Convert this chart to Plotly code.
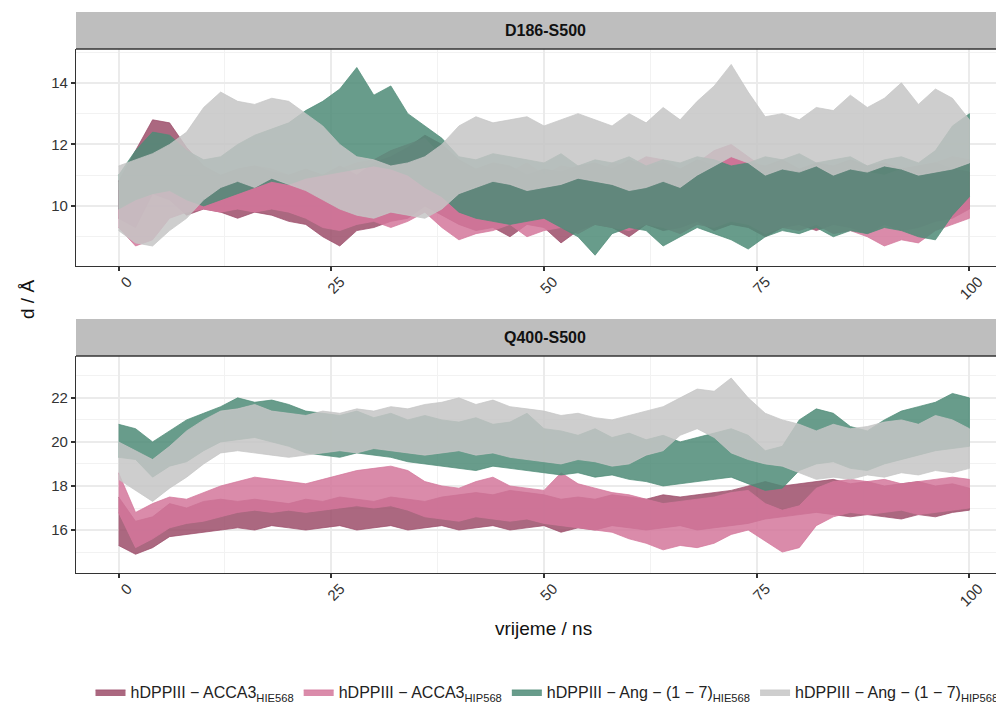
import plotly.graph_objects as go

# vrijeme / ns, every 2 ns; each series given as lower / upper edge of the trace
t = list(range(0, 101, 2))

series_names = [
    "hDPPIII − ACCA3<sub>HIE568</sub>",
    "hDPPIII − ACCA3<sub>HIP568</sub>",
    "hDPPIII − Ang − (1 − 7)<sub>HIE568</sub>",
    "hDPPIII − Ang − (1 − 7)<sub>HIP568</sub>",
]
series_colors = ["#9C4D6A", "#D4779B", "#4E8B77", "#C6C6C6"]
panel_titles = ["D186-S500", "Q400-S500"]

# D186-S500
d186_acca3_hie_lo = [9.6, 9.3, 10.4, 10.2, 9.7, 9.9, 9.8, 9.6, 9.8, 9.7,
                     9.5, 9.4, 9.0, 8.7, 9.2, 9.3, 9.5, 9.6, 10.0, 9.7,
                     9.4, 9.2, 9.3, 9.0, 9.4, 9.3, 8.8, 9.2, 9.4, 9.3,
                     9.0, 9.4, 9.2, 9.3, 9.5, 9.2, 9.4, 9.3, 9.0, 9.3,
                     9.4, 9.2, 9.4, 9.3, 9.1, 9.4, 9.2, 9.3, 9.5, 9.6,
                     9.9]
d186_acca3_hie_hi = [10.8, 11.8, 12.8, 12.7, 11.9, 11.3, 11.0, 11.2, 11.3, 11.1,
                     11.0, 11.2, 11.0, 11.3, 11.0, 11.4, 11.6, 11.9, 12.3, 12.0,
                     11.5, 11.2, 11.4, 11.3, 11.0, 11.2, 11.1, 11.3, 11.4, 11.2,
                     11.5, 11.3, 11.4, 11.2, 11.5, 11.3, 11.6, 11.4, 11.3, 11.5,
                     11.2, 11.4, 11.3, 11.5, 11.3, 11.4, 11.2, 11.3, 11.4, 11.2,
                     11.1]
d186_acca3_hip_lo = [9.3, 8.7, 8.9, 9.6, 9.8, 9.9, 9.8, 9.9, 9.8, 9.9,
                     9.8, 9.6, 9.3, 9.2, 9.4, 9.5, 9.3, 9.5, 9.8, 9.3,
                     8.9, 9.1, 9.2, 9.4, 9.0, 9.2, 9.3, 9.1, 9.4, 9.3,
                     9.2, 9.4, 9.3, 9.1, 9.4, 9.3, 9.5, 9.4, 9.1, 9.3,
                     9.2, 9.4, 9.1, 9.2, 9.0, 8.7, 8.9, 8.8, 9.2, 9.4,
                     9.6]
d186_acca3_hip_hi = [10.5, 10.4, 10.6, 10.9, 10.8, 11.0, 10.9, 11.2, 11.3, 11.2,
                     11.0, 11.1, 11.0, 11.2, 11.4, 11.5, 11.8, 12.0, 12.2, 11.6,
                     11.0, 11.2, 11.3, 11.1, 11.4, 11.0, 11.3, 11.2, 11.0, 11.4,
                     11.3, 11.6, 11.5, 11.2, 11.4, 11.8, 12.0, 11.6, 11.2, 11.3,
                     11.1, 11.3, 11.0, 11.2, 11.1, 11.0, 11.2, 11.3, 11.4, 11.6,
                     11.5]
d186_ang_hie_lo = [9.9, 10.2, 10.4, 10.5, 10.2, 10.0, 10.2, 10.4, 10.6, 10.8,
                   10.7, 10.9, 11.0, 11.1, 11.2, 11.3, 11.2, 11.0, 10.6, 10.3,
                   9.8, 9.6, 9.5, 9.4, 9.5, 9.6, 9.3, 9.0, 8.4, 9.1,
                   9.3, 9.2, 8.7, 9.0, 9.3, 9.1, 8.9, 8.6, 9.0, 9.2,
                   9.1, 9.3, 9.0, 9.2, 9.1, 9.3, 9.2, 9.0, 8.9, 9.7,
                   10.3]
d186_ang_hie_hi = [11.0, 11.8, 12.4, 12.3, 11.8, 11.5, 11.6, 12.0, 12.3, 12.5,
                   12.7, 13.1, 13.4, 13.8, 14.5, 13.6, 13.9, 13.0, 12.6, 12.2,
                   11.6, 11.5, 11.7, 11.6, 11.5, 11.4, 11.7, 11.3, 11.5, 11.4,
                   11.6, 11.3, 11.5, 11.4, 11.6, 11.5, 11.3, 11.4, 11.6, 11.5,
                   11.7, 11.4, 11.5, 11.6, 11.3, 11.5, 11.6, 11.4, 11.8, 12.6,
                   13.0]
d186_ang_hip_lo = [9.2, 8.8, 8.7, 9.2, 9.6, 10.2, 10.6, 10.8, 10.6, 10.9,
                   10.7, 10.5, 10.2, 9.9, 9.7, 9.6, 9.8, 9.7, 9.6, 9.9,
                   10.4, 10.6, 10.8, 10.7, 10.5, 10.6, 10.7, 10.9, 10.8, 10.7,
                   10.5, 10.6, 10.8, 10.6, 11.0, 11.3, 11.6, 11.4, 11.0, 11.2,
                   11.1, 11.3, 11.0, 11.2, 11.1, 11.3, 11.2, 11.0, 11.1, 11.2,
                   11.4]
d186_ang_hip_hi = [11.3, 11.5, 11.7, 12.0, 12.4, 13.2, 13.7, 13.4, 13.3, 13.5,
                   13.4, 13.0, 12.6, 12.0, 11.6, 11.5, 11.3, 11.4, 11.6, 12.0,
                   12.6, 12.9, 12.7, 12.8, 12.9, 12.6, 12.8, 13.0, 12.8, 12.6,
                   13.0, 12.7, 13.2, 12.8, 13.4, 13.9, 14.6, 13.7, 12.9, 13.0,
                   12.8, 13.2, 13.1, 13.6, 13.2, 13.5, 14.0, 13.3, 13.8, 13.5,
                   12.8]

# Q400-S500
q400_acca3_hie_lo = [15.3, 14.9, 15.2, 15.7, 15.8, 15.9, 16.0, 16.1, 16.0, 16.2,
                     16.1, 16.0, 16.1, 16.2, 16.0, 16.1, 16.2, 16.0, 16.1, 16.2,
                     16.0, 16.1, 16.2, 16.0, 16.1, 16.2, 15.9, 16.1, 16.0, 16.2,
                     16.1, 16.0, 16.1, 16.2, 16.0, 16.1, 16.2, 16.3, 16.5, 16.6,
                     16.7, 16.8, 16.7, 16.6, 16.7, 16.6, 16.5, 16.7, 16.6, 16.8,
                     16.9]
q400_acca3_hie_hi = [17.5, 16.4, 16.6, 17.2, 17.0, 17.3, 17.4, 17.3, 17.4, 17.3,
                     17.2, 17.4, 17.3, 17.5, 17.4, 17.3, 17.5, 17.4, 17.3, 17.5,
                     17.6, 17.7, 17.6, 17.8, 17.7, 17.6, 17.4, 17.5, 17.4, 17.6,
                     17.5, 17.4, 17.6, 17.5, 17.6, 17.7, 17.8, 18.0, 18.2, 18.0,
                     18.1, 18.2, 18.3, 18.1, 18.2, 18.0, 18.1, 18.2, 18.0, 18.1,
                     17.9]
q400_acca3_hip_lo = [16.8, 15.2, 15.6, 16.1, 16.3, 16.4, 16.6, 16.8, 16.9, 16.8,
                     16.9, 16.8, 16.9, 17.0, 17.1, 17.0, 17.1, 16.9, 16.6, 16.5,
                     16.4, 16.6, 16.5, 16.4, 16.5, 16.3, 16.2, 16.1, 16.0, 15.9,
                     15.6, 15.4, 15.1, 15.3, 15.2, 15.4, 15.8, 16.0, 15.5, 15.0,
                     15.2, 16.2, 16.6, 16.8, 16.7, 16.8, 16.9, 16.7, 16.8, 16.9,
                     17.0]
q400_acca3_hip_hi = [18.6, 16.8, 17.2, 17.5, 17.4, 17.7, 18.0, 18.2, 18.4, 18.3,
                     18.2, 18.1, 18.3, 18.5, 18.7, 18.8, 18.9, 18.7, 18.2, 18.0,
                     17.9, 18.2, 18.4, 18.0, 17.9, 17.8, 18.6, 18.1, 17.9, 17.7,
                     17.6, 17.4, 17.2, 17.3, 17.4, 17.5, 17.7, 17.8, 17.2, 16.9,
                     17.1, 17.9, 18.2, 18.3, 18.2, 18.3, 18.1, 18.2, 18.3, 18.4,
                     18.3]
q400_ang_hie_lo = [19.3, 19.2, 18.4, 18.9, 19.1, 19.6, 20.0, 20.1, 20.2, 20.0,
                   19.8, 19.5, 19.4, 19.3, 19.5, 19.4, 19.3, 19.1, 19.0, 18.9,
                   18.8, 18.7, 18.9, 18.8, 18.7, 18.6, 18.5, 18.6, 18.4, 18.5,
                   18.3, 18.2, 18.0, 18.1, 18.2, 18.3, 18.4, 18.1, 17.8, 17.9,
                   18.7, 19.0, 19.1, 18.8, 18.7, 19.0, 19.2, 19.4, 19.6, 19.7,
                   19.8]
q400_ang_hie_hi = [20.8, 20.6, 20.0, 20.5, 21.0, 21.3, 21.6, 22.0, 21.8, 21.9,
                   21.7, 21.4, 21.3, 21.2, 21.4, 21.1, 21.3, 21.0, 21.2, 21.0,
                   20.9, 21.1, 20.8, 20.9, 21.3, 20.6, 20.5, 20.3, 20.6, 20.2,
                   20.4, 20.1, 20.3, 20.0, 20.2, 20.4, 20.6, 20.3, 19.6, 19.8,
                   21.0, 21.5, 21.3, 20.7, 20.5, 21.0, 21.4, 21.6, 21.8, 22.2,
                   22.0]
q400_ang_hip_lo = [18.3, 17.8, 17.3, 17.9, 18.4, 19.0, 19.5, 19.6, 19.5, 19.4,
                   19.3, 19.4, 19.5, 19.6, 19.5, 19.7, 19.6, 19.5, 19.4, 19.5,
                   19.6, 19.4, 19.5, 19.3, 19.2, 19.1, 19.0, 19.2, 19.1, 18.9,
                   19.0, 19.4, 19.6, 20.3, 20.6, 20.2, 19.5, 19.2, 19.0, 18.9,
                   18.6, 18.3, 18.4, 18.3, 18.5, 18.4, 18.6, 18.5, 18.7, 18.6,
                   18.8]
q400_ang_hip_hi = [20.0, 19.6, 19.2, 19.8, 20.5, 21.0, 21.4, 21.5, 21.7, 21.4,
                   21.3, 21.2, 21.4, 21.3, 21.5, 21.4, 21.6, 21.5, 21.7, 21.8,
                   22.0, 21.7, 21.9, 21.6, 21.5, 21.4, 21.2, 21.3, 21.1, 21.0,
                   21.2, 21.4, 21.6, 22.0, 22.4, 22.3, 22.9, 22.0, 21.3, 21.0,
                   20.8, 20.5, 20.8, 20.6, 20.7, 20.9, 21.0, 20.8, 21.2, 21.0,
                   20.6]

x_ticks = [0, 25, 50, 75, 100]
y_ticks = [[10, 12, 14], [16, 18, 20, 22]]

panels = [
    [(d186_acca3_hie_lo, d186_acca3_hie_hi), (d186_acca3_hip_lo, d186_acca3_hip_hi),
     (d186_ang_hie_lo, d186_ang_hie_hi), (d186_ang_hip_lo, d186_ang_hip_hi)],
    [(q400_acca3_hie_lo, q400_acca3_hie_hi), (q400_acca3_hip_lo, q400_acca3_hip_hi),
     (q400_ang_hie_lo, q400_ang_hie_hi), (q400_ang_hip_lo, q400_ang_hip_hi)],
]


def rgba(hexcol, a):
    h = hexcol.lstrip("#")
    return "rgba(%d,%d,%d,%s)" % (int(h[0:2], 16), int(h[2:4], 16), int(h[4:6], 16), a)


fig = go.Figure()

for p, panel in enumerate(panels):
    xa = "x" if p == 0 else "x2"
    ya = "y" if p == 0 else "y2"
    for s, (lo, hi) in enumerate(panel):
        fig.add_trace(go.Scatter(
            x=t + t[::-1], y=hi + lo[::-1],
            fill="toself", mode="lines",
            fillcolor=rgba(series_colors[s], 0.85),
            line=dict(color=rgba(series_colors[s], 0.9), width=0.8),
            name=series_names[s], legendgroup=str(s),
            showlegend=(p == 0), xaxis=xa, yaxis=ya,
            hoverinfo="skip",
        ))

font_main = "Liberation Sans, Arial, sans-serif"
# the page body adds an 8 px offset, so figure margins are the screen positions minus 8
H_PLOT = 524   # pixel height between top and bottom margin
W_PLOT = 936   # pixel width of the plot area


def px_x(x):  # screen x -> paper x
    return (x - 76) / W_PLOT


def px_y(y):  # screen y -> paper y
    return (573 - y) / H_PLOT


def xaxis_style(anchor):
    return dict(
        range=[-5, 105], anchor=anchor, automargin=False,
        tickvals=x_ticks, ticktext=[str(v) for v in x_ticks],
        tickangle=-45, ticks="outside", ticklen=4, tickwidth=1.5, tickcolor="#333",
        ticklabelshift=9, ticklabelstandoff=-4,
        tickfont=dict(family=font_main, size=15, color="#333"),
        showgrid=True, gridcolor="#EBEBEB", gridwidth=1.6,
        minor=dict(tick0=12.5, dtick=25, showgrid=True, gridcolor="#F2F2F2", gridwidth=1),
        showline=True, linecolor="#333", linewidth=1.2,
        zeroline=False,
    )


def yaxis_style(anchor, rng, ticks_):
    return dict(
        range=rng, anchor=anchor, automargin=False,
        tickvals=ticks_, ticks="outside", ticklen=4, tickwidth=1.5, tickcolor="#333",
        tickfont=dict(family=font_main, size=15, color="#333"),
        showgrid=True, gridcolor="#EBEBEB", gridwidth=1.6,
        minor=dict(tick0=ticks_[0] - 1, dtick=2, showgrid=True, gridcolor="#F2F2F2", gridwidth=1),
        showline=True, linecolor="#333", linewidth=1.2,
        zeroline=False,
    )


top1 = 1.0
bot1 = px_y(266)
top2 = px_y(356)
bot2 = 0.0

fig.update_layout(
    width=1004, height=704,
    margin=dict(l=68, r=0, t=41, b=139, autoexpand=False),
    paper_bgcolor="white", plot_bgcolor="white",
    xaxis=xaxis_style("y"),
    yaxis=dict(yaxis_style("x", [8.05, 15.1], y_ticks[0]), domain=[bot1, top1]),
    xaxis2=xaxis_style("y2"),
    yaxis2=dict(yaxis_style("x2", [14.05, 23.9], y_ticks[1]), domain=[bot2, top2]),
    legend=dict(
        orientation="h", x=px_x(547), xanchor="center",
        y=px_y(692), yanchor="middle",
        font=dict(family=font_main, size=16, color="#222"),
        itemwidth=30, tracegroupgap=0,
    ),
    showlegend=True,
)

# facet strips
strips = [(px_y(12), top1), (px_y(319), top2)]
for (y1, y0), title in zip(strips, panel_titles):
    fig.add_shape(type="rect", xref="paper", yref="paper", x0=0, x1=1, y0=y0, y1=y1,
                  fillcolor="#BEBEBE", line=dict(width=0), layer="above")
    fig.add_shape(type="line", xref="paper", yref="paper", x0=0, x1=1, y0=y0, y1=y0,
                  line=dict(color="#333", width=1.6), layer="above")
    fig.add_annotation(text="<b>%s</b>" % title, xref="paper", yref="paper",
                       x=px_x(545), y=(y0 + y1) / 2, xanchor="center", yanchor="middle",
                       showarrow=False,
                       font=dict(family=font_main, size=16, color="#111"))

fig.add_annotation(text="d / Å", xref="paper", yref="paper",
                   x=px_x(27), y=px_y(300), xanchor="center", yanchor="middle",
                   textangle=-90, showarrow=False,
                   font=dict(family=font_main, size=19, color="#111"))
fig.add_annotation(text="vrijeme / ns", xref="paper", yref="paper",
                   x=px_x(543), y=px_y(628), xanchor="center", yanchor="middle",
                   showarrow=False,
                   font=dict(family=font_main, size=19, color="#111"))

fig.write_html("out.html")
